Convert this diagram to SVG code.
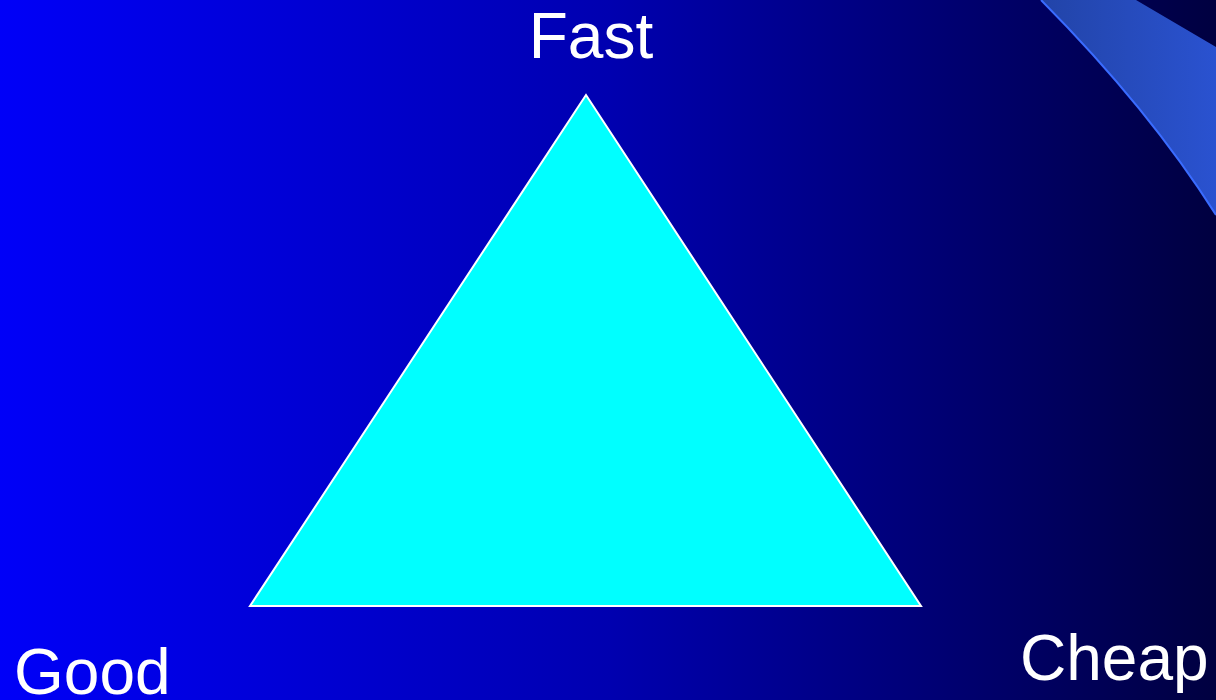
<svg xmlns="http://www.w3.org/2000/svg" width="1216" height="700" viewBox="0 0 1216 700">
  <defs>
    <linearGradient id="bg" x1="0" y1="0" x2="1" y2="0">
      <stop offset="0" stop-color="#0000f8"/>
      <stop offset="0.5" stop-color="#0000b0"/>
      <stop offset="1" stop-color="#000040"/>
    </linearGradient>
    <linearGradient id="band" x1="0" y1="0" x2="1" y2="0">
      <stop offset="0" stop-color="#2244a8"/>
      <stop offset="1" stop-color="#2a52d0"/>
    </linearGradient>
    <style>
      .lbl { font-family: "Liberation Sans", Arial, sans-serif; font-size: 64px; fill: #ffffff; }
    </style>
  </defs>
  <rect x="0" y="0" width="1216" height="700" fill="url(#bg)"/>
  <g id="corner">
    <path d="M1041,0 Q1150,110 1216,215 L1216,47 L1136,0 Z" fill="url(#band)"/>
    <path d="M1041,0 Q1150,110 1216,215" fill="none" stroke="#3a6cff" stroke-width="2"/>
  </g>
  <g id="triangle">
    <polygon points="586,95 250,606 921,606" fill="#00ffff" stroke="#ffffff" stroke-width="2"/>
  </g>
  <g id="connectors"></g>
  <g id="fast"><text class="lbl" x="591" y="58" text-anchor="middle">Fast</text></g>
  <g id="good"><text class="lbl" x="14" y="694">Good</text></g>
  <g id="cheap"><text class="lbl" x="1020" y="680">Cheap</text></g>
</svg>
